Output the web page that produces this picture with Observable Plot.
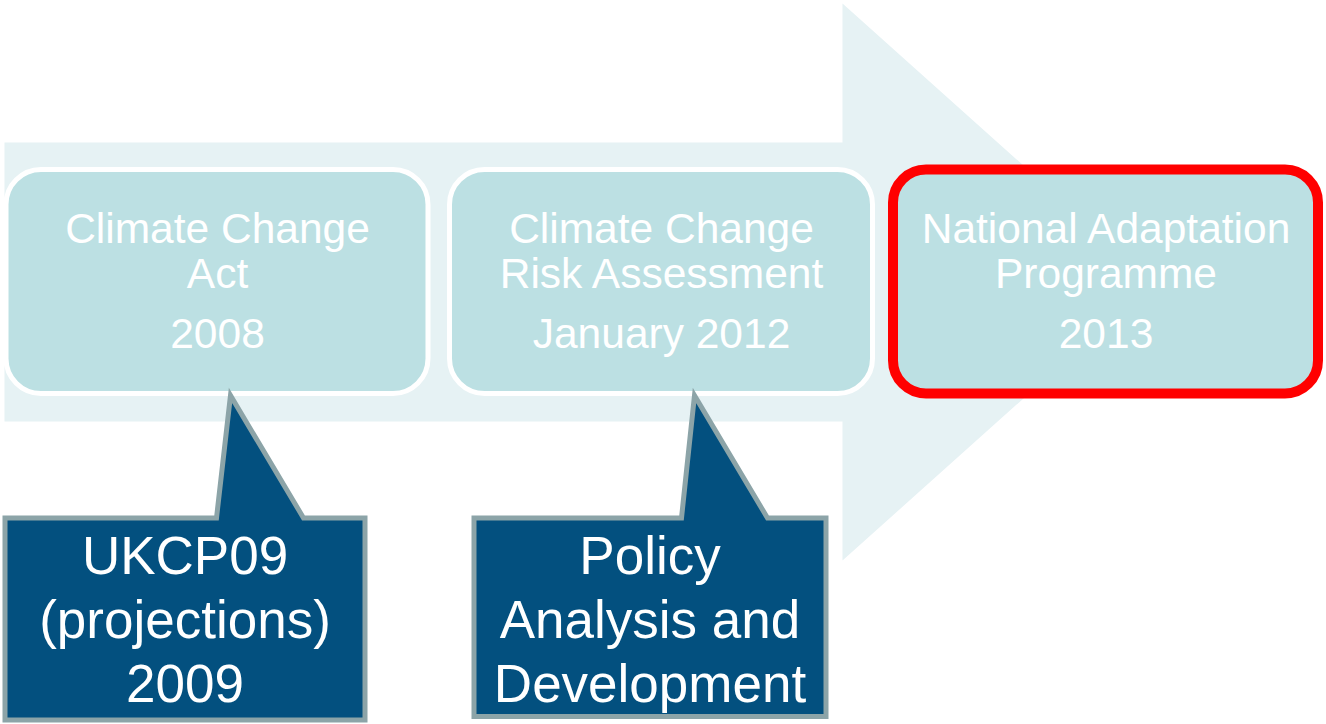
<!DOCTYPE html>
<html>
<head>
<meta charset="utf-8">
<script src="https://cdn.jsdelivr.net/npm/d3@7"></script>
<script src="https://cdn.jsdelivr.net/npm/@observablehq/plot@0.6"></script>
<style>
  html, body { margin: 0; padding: 0; background: #ffffff; overflow: hidden; }
  #chart svg { display: block; }
</style>
</head>
<body>
<div id="chart"></div>
<script>
// ---- Data ----
const stageTitles = ["Climate Change\nAct", "Climate Change\nRisk Assessment", "National Adaptation\nProgramme"];
const stageDates = ["2008", "January 2012", "2013"];
const calloutTexts = ["UKCP09\n(projections)\n2009", "Policy\nAnalysis and\nDevelopment"];
const calloutStage = [0, 1];
const highlightStage = 2;

// ---- Layout (diagram coordinates, in pixels) ----
const W = 1326, H = 724;
const boxX = [[6, 428], [449.5, 872.5], [893, 1318]];
const boxY = [169.5, 393.5];
const calloutX = [[4.5, 364.5], [473.5, 825.5]];
const calloutY = [[517.5, 719.5], [517.5, 716]];
const pointer = [[216, 230, 303], [681, 694, 767]];
const pointerTipY = 395;

const colors = {
  arrow: "#e6f2f4",
  box: "#bce0e3",
  callout: "#03507f",
  calloutStroke: "#8ca4a8",
  highlight: "#ff0000"
};
const font = "Liberation Sans, Arial, Helvetica, sans-serif";

// background arrow polygon
const arrowPts = [
  {x: 4, y: 142}, {x: 842, y: 142}, {x: 842, y: 3}, {x: 1153, y: 281.5},
  {x: 842, y: 560}, {x: 842, y: 421}, {x: 4, y: 421}, {x: 4, y: 142}
];

// stage boxes
const boxes = stageTitles.map((t, i) => ({
  x1: boxX[i][0], x2: boxX[i][1], y1: boxY[0], y2: boxY[1],
  cx: (boxX[i][0] + boxX[i][1]) / 2,
  title: t, date: stageDates[i], hi: i === highlightStage
}));

// callouts (rectangle with pointer towards stage)
const calloutPolys = [];
const calloutLabels = [];
calloutTexts.forEach((t, k) => {
  const [x0, x1] = calloutX[k];
  const [y0, y1] = calloutY[k];
  const [pl, pt, pr] = pointer[k];
  const pts = [
    {x: (x0 + x1) / 2, y: y1}, {x: x0, y: y1}, {x: x0, y: y0}, {x: pl, y: y0},
    {x: pt, y: pointerTipY}, {x: pr, y: y0}, {x: x1, y: y0}, {x: x1, y: y1},
    {x: (x0 + x1) / 2, y: y1}
  ];
  pts.forEach(p => calloutPolys.push({...p, id: k}));
  calloutLabels.push({x: (x0 + x1) / 2, y: 701, text: t, stage: calloutStage[k]});
});

const chart = Plot.plot({
  width: W,
  height: H,
  margin: 0,
  x: {domain: [0, W], range: [0, W], axis: null},
  y: {domain: [0, H], range: [0, H], axis: null},
  style: {fontFamily: font, background: "#ffffff"},
  marks: [
    Plot.line(arrowPts, {x: "x", y: "y", fill: colors.arrow, stroke: "none"}),
    Plot.rect(boxes.filter(d => !d.hi), {
      x1: "x1", x2: "x2", y1: "y1", y2: "y2", rx: 35,
      fill: colors.box, stroke: "#ffffff", strokeWidth: 5
    }),
    Plot.rect(boxes.filter(d => d.hi), {
      x1: "x1", x2: "x2", y1: "y1", y2: "y2", rx: 33,
      fill: colors.box, stroke: colors.highlight, strokeWidth: 10
    }),
    Plot.text(boxes, {
      x: "cx", y: () => 287, text: "title", fill: "#ffffff",
      fontSize: 42.5, lineAnchor: "bottom", lineHeight: 1.04, fontFamily: font
    }),
    Plot.text(boxes, {
      x: "cx", y: () => 347, text: "date", fill: "#ffffff",
      fontSize: 42.5, lineAnchor: "bottom", fontFamily: font
    }),
    Plot.line(calloutPolys, {
      x: "x", y: "y", z: "id", fill: colors.callout, stroke: colors.calloutStroke,
      strokeWidth: 5, strokeLinejoin: "miter", strokeMiterlimit: 10
    }),
    Plot.text(calloutLabels, {
      x: "x", y: "y", text: "text", fill: "#ffffff",
      fontSize: 53, lineAnchor: "bottom", lineHeight: 1.2, fontFamily: font
    })
  ]
});

document.getElementById("chart").appendChild(chart);
</script>
</body>
</html>
